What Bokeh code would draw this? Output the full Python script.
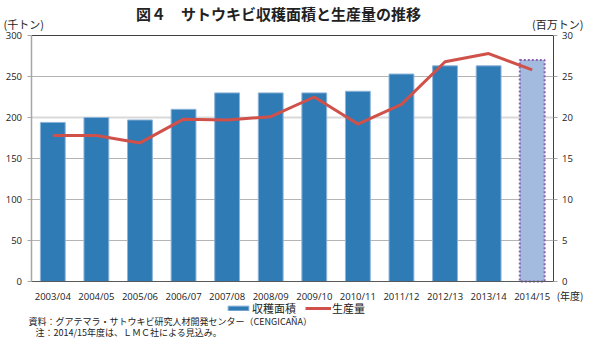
from bokeh.plotting import figure
from bokeh.models import (ColumnDataSource, Range1d, FactorRange, LinearAxis,
                          Label, Legend, LegendItem, CDSView, BooleanFilter,
                          FixedTicker, Grid)
from bokeh.embed import file_html
from bokeh.resources import INLINE

# ---- data ----
categories = ["2003/04", "2004/05", "2005/06", "2006/07", "2007/08", "2008/09",
              "2009/10", "2010/11", "2011/12", "2012/13", "2013/14", "2014/15"]
harvest_area = [194, 200, 197, 210, 230, 230, 230, 232, 253, 263, 263, 270]   # 千トン (left axis)
production = [17.8, 17.8, 16.9, 19.8, 19.7, 20.1, 22.5, 19.2, 21.6, 26.8, 27.8, 25.8]  # 百万トン (right axis)
estimate_years = ["2014/15"]
left_ticks = [0, 50, 100, 150, 200, 250, 300]
right_ticks = [0, 5, 10, 15, 20, 25, 30]

JP = "Noto Sans CJK JP"
NUM = "Open Sans"

# ---- layout (pixels) ----
W, H = 584, 340
Y_TOP_PX, Y_BOT_PX = 35, 281          # pixel rows of axis max / zero
X_PAD = 0.7                            # categories of padding on each side
k = (Y_BOT_PX - Y_TOP_PX) / left_ticks[-1]
y_start = -(H - Y_BOT_PX) / k
y_end = left_ticks[-1] + Y_TOP_PX / k
ratio = right_ticks[-1] / left_ticks[-1]
n = len(categories)

src = ColumnDataSource(dict(cat=categories, area=harvest_area, prod=production))
is_est = [c in estimate_years for c in categories]
view_actual = CDSView(filter=BooleanFilter([not e for e in is_est]))
view_est = CDSView(filter=BooleanFilter(is_est))

x_range = FactorRange(factors=categories, range_padding=X_PAD, range_padding_units="absolute")
p = figure(width=W, height=H, x_range=x_range, y_range=Range1d(y_start, y_end),
           output_backend="svg", toolbar_location=None,
           min_border_left=0, min_border_right=0, min_border_top=0, min_border_bottom=0)
p.outline_line_color = None
p.background_fill_color = "white"
p.border_fill_color = "white"
p.extra_y_ranges = {"right": Range1d(y_start * ratio, y_end * ratio)}
p.xgrid.visible = False
p.ygrid.visible = False

# ---- grid lines ----
has_cross = "cross_bounds" in Grid.properties()
def hgrid(ticks, color, width):
    g = Grid(dimension=1, ticker=FixedTicker(ticks=ticks), grid_line_color=color,
             grid_line_width=width)
    if has_cross:
        g.cross_bounds = (0, n)
    p.add_layout(g, "center")
hgrid([50, 100, 150, 250], "#b4b4b4", 1)
hgrid([200], "#d9d9d9", 2)
hgrid([left_ticks[-1]], "#404040", 1)

# ---- bars ----
bars = p.vbar(x="cat", top="area", width=0.57, source=src, view=view_actual,
              fill_color="#2e7bb6", line_color="#8fb4d9", line_width=1)
p.vbar(x="cat", top="area", width=0.57, source=src, view=view_est,
       fill_color="#a3bbdf", line_color="#8a5fb0", line_width=2, line_dash="2 2")

# ---- line ----
ln = p.line(x="cat", y="prod", source=src, y_range_name="right",
            line_color="#d0504a", line_width=3)

# ---- axes (fixed inside the frame) ----
yl = p.yaxis[0]
yl.fixed_location = 0
yl.bounds = (left_ticks[0], left_ticks[-1])
yl.ticker = FixedTicker(ticks=left_ticks)
yl.axis_line_color = "#a6a6a6"
yl.axis_line_width = 1.5
yl.major_tick_line_color = "#a6a6a6"
yl.major_tick_out = 4
yl.major_tick_in = 0
yl.minor_tick_line_color = None
yl.major_label_standoff = 5
yl.major_label_text_font = NUM
yl.major_label_text_font_size = "9.5px"
yl.major_label_text_color = "#222222"

yr = LinearAxis(y_range_name="right", ticker=FixedTicker(ticks=right_ticks))
yr.fixed_location = n
yr.bounds = (right_ticks[0], right_ticks[-1])
yr.axis_line_color = "#404040"
yr.axis_line_width = 1
yr.major_tick_line_color = "#a6a6a6"
yr.major_tick_out = 4
yr.major_tick_in = 0
yr.minor_tick_line_color = None
yr.major_label_standoff = 4
yr.major_label_text_font = NUM
yr.major_label_text_font_size = "9.5px"
yr.major_label_text_color = "#222222"
p.add_layout(yr, "right")

xb = p.xaxis[0]
xb.fixed_location = 0
xb.bounds = (0, n)
xb.axis_line_color = "#595959"
xb.axis_line_width = 1
xb.major_tick_line_color = None
xb.minor_tick_line_color = None
xb.major_tick_out = 0
xb.major_label_standoff = 8
xb.major_label_text_font = NUM
xb.major_label_text_font_size = "9.5px"
xb.major_label_text_color = "#222222"

# ---- texts (screen units from the canvas bottom-left) ----
def lab(text, x, y_from_top, size, align="left", baseline="middle", style="normal"):
    p.add_layout(Label(x=x, y=H - y_from_top, x_units="screen", y_units="screen", text=text,
                       text_font=JP, text_font_size=size, text_align=align,
                       text_baseline=baseline, text_font_style=style, text_color="#222222"))

lab("図４　サトウキビ収穫面積と生産量の推移", 278, 2, "15px", align="center", baseline="top", style="bold")
lab("(千トン)", 3, 23, "11px")
lab("(百万トン)", W - 1, 23, "11px", align="right")
lab("(年度)", W - 1, 294.5, "10px", align="right")
lab("資料：グアテマラ・サトウキビ研究人材開発センター（CENGICAÑA）", 28, 321, "9px")
lab("注：2014/15年度は、ＬＭＣ社による見込み。", 35, 332, "9px")

legend = Legend(items=[LegendItem(label="収穫面積", renderers=[bars]),
                       LegendItem(label="生産量", renderers=[ln])],
                location=(225, H - 316), orientation="horizontal",
                glyph_width=26, glyph_height=6, label_height=12, label_standoff=1,
                label_width=47, spacing=6, padding=0, margin=0, border_line_color=None,
                background_fill_alpha=0,
                label_text_font=JP, label_text_font_size="11px",
                label_text_color="#222222")
p.add_layout(legend, "center")

open("out.html", "w").write(file_html(p, INLINE))
